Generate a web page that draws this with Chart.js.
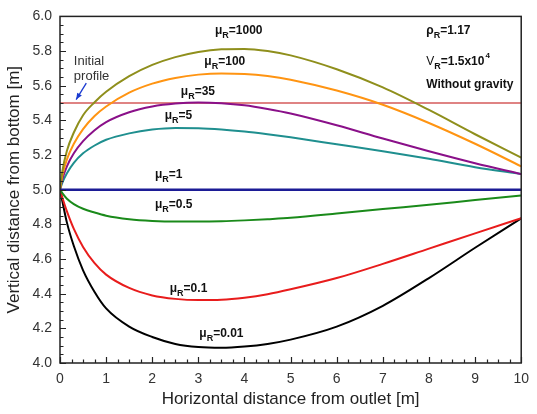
<!DOCTYPE html>
<html><head><meta charset="utf-8">
<script src="https://cdn.jsdelivr.net/npm/chart.js@4.4.1/dist/chart.umd.min.js"></script>
<style>html,body{margin:0;padding:0;background:#fff;} #wrap{width:537px;height:414px;position:relative;}</style>
</head><body><div id="wrap"><canvas id="c" width="537" height="414"></canvas></div>
<script>
// ---- data ----
const xValues = [0, 0.05, 0.15, 0.3, 0.5, 0.75, 1, 1.5, 2, 2.5, 3, 3.5, 4, 4.5, 5, 6, 7, 8, 9, 10];
const muR1000 = [5.0,5.105,5.225,5.33,5.43,5.505,5.565,5.655,5.72,5.765,5.795,5.81,5.812,5.80,5.775,5.695,5.59,5.46,5.32,5.185];
const muR100  = [5.0,5.08,5.175,5.265,5.35,5.425,5.48,5.56,5.612,5.645,5.664,5.671,5.668,5.656,5.635,5.572,5.49,5.385,5.265,5.135];
const muR35   = [5.0,5.06,5.135,5.21,5.28,5.343,5.39,5.447,5.48,5.497,5.503,5.499,5.487,5.466,5.44,5.372,5.295,5.222,5.153,5.09];
const muR5    = [5.0,5.04,5.095,5.155,5.21,5.255,5.288,5.325,5.347,5.356,5.355,5.348,5.336,5.32,5.302,5.262,5.222,5.178,5.13,5.09];
const muR1    = [5.0,5.0,5.0,5.0,5.0,5.0,5.0,5.0,5.0,5.0,5.0,5.0,5.0,5.0,5.0,5.0,5.0,5.0,5.0,5.0];
const muR05   = [5.0,4.98,4.948,4.917,4.89,4.868,4.85,4.83,4.82,4.816,4.816,4.818,4.823,4.83,4.838,4.862,4.888,4.913,4.94,4.966];
const muR01   = [5.0,4.955,4.875,4.774,4.67,4.576,4.51,4.433,4.39,4.37,4.363,4.365,4.377,4.397,4.425,4.49,4.572,4.66,4.748,4.835];
const muR001  = [5.0,4.935,4.81,4.675,4.535,4.41,4.315,4.21,4.15,4.11,4.092,4.088,4.095,4.11,4.135,4.21,4.33,4.49,4.665,4.835];
const initialProfile = [5.5,5.5,5.5,5.5,5.5,5.5,5.5,5.5,5.5,5.5,5.5,5.5,5.5,5.5,5.5,5.5,5.5,5.5,5.5,5.5];
const seriesNames = ['Initial profile','μR=1000','μR=100','μR=35','μR=5','μR=1','μR=0.5','μR=0.1','μR=0.01'];
const xTicks = [0,1,2,3,4,5,6,7,8,9,10];
const yTicks = [4.0,4.2,4.4,4.6,4.8,5.0,5.2,5.4,5.6,5.8,6.0];

// ---- styles ----
const FONT = '"Liberation Sans", Arial, sans-serif';
const seriesData = [initialProfile, muR1000, muR100, muR35, muR5, muR1, muR05, muR01, muR001];
const colors = ['#d45a5a','#8f8f1c','#ff9412','#8a1089','#1f8f8f','#1c1c96','#1a8a1a','#e81c1c','#000000'];
const widths = [1.6,2,2,2,2,2.4,2,2,2];

const datasets = seriesData.map((arr,i)=>({
  label: seriesNames[i],
  data: xValues.map((x,j)=>({x:x,y:arr[j]})),
  borderColor: colors[i],
  borderWidth: widths[i],
  pointRadius: 0,
  fill: false,
  cubicInterpolationMode: 'monotone',
  order: i===0 ? 10 : (i===5 ? 0 : 5)
}));

function muLabel(ctx, px, py, val, size){
  size = size || 12;
  ctx.font = 'bold '+size+'px '+FONT;
  ctx.fillText('μ', px, py);
  let w = ctx.measureText('μ').width;
  ctx.font = 'bold '+Math.round(size*0.75)+'px '+FONT;
  ctx.fillText('R', px+w, py+4);
  let w2 = ctx.measureText('R').width;
  ctx.font = 'bold '+size+'px '+FONT;
  ctx.fillText('='+val, px+w+w2, py);
}

const annot = [
  {x:3.36, y:5.897, v:'1000'},
  {x:3.13, y:5.72, v:'100'},
  {x:2.62, y:5.548, v:'35'},
  {x:2.27, y:5.41, v:'5'},
  {x:2.06, y:5.07, v:'1'},
  {x:2.06, y:4.893, v:'0.5'},
  {x:2.38, y:4.41, v:'0.1'},
  {x:3.02, y:4.15, v:'0.01'}
];

const decor = {
  id:'decor',
  afterDatasetsDraw(chart){
    const ctx = chart.ctx, xs = chart.scales.x, ys = chart.scales.y, a = chart.chartArea;
    ctx.save();
    // frame
    ctx.strokeStyle = '#222'; ctx.lineWidth = 1.5;
    ctx.strokeRect(a.left, a.top, a.right-a.left, a.bottom-a.top);
    // inside ticks
    ctx.lineWidth = 1.2; ctx.beginPath();
    for(let k=0; k<=40; k++){
      const v = k*0.25;
      const p = Math.round(xs.getPixelForValue(v))+0.5;
      const major = k%4===0;
      ctx.moveTo(p, a.bottom); ctx.lineTo(p, a.bottom-(major?6:3.5));
    }
    for(let k=0; k<=40; k++){
      const v = 4 + k*0.05;
      const p = Math.round(ys.getPixelForValue(v))+0.5;
      const major = k%4===0;
      ctx.moveTo(a.left, p); ctx.lineTo(a.left+(major?6:3.5), p);
    }
    ctx.stroke();
    // mu labels
    ctx.fillStyle = '#111'; ctx.textBaseline = 'alphabetic'; ctx.textAlign='left';
    annot.forEach(o=>muLabel(ctx, xs.getPixelForValue(o.x), ys.getPixelForValue(o.y), o.v, 12));
    // right annotations
    const rx = xs.getPixelForValue(7.94);
    ctx.font = 'bold 12px '+FONT;
    let py = ys.getPixelForValue(5.897);
    ctx.fillText('ρ', rx, py); let w = ctx.measureText('ρ').width;
    ctx.font = 'bold 9px '+FONT; ctx.fillText('R', rx+w, py+4); let w2 = ctx.measureText('R').width;
    ctx.font = 'bold 12px '+FONT; ctx.fillText('=1.17', rx+w+w2, py);
    py = ys.getPixelForValue(5.72);
    ctx.font = '12px '+FONT; ctx.fillText('V', rx, py); w = ctx.measureText('V').width;
    ctx.font = 'bold 9px '+FONT; ctx.fillText('R', rx+w, py+4); w2 = ctx.measureText('R').width;
    ctx.font = 'bold 12px '+FONT; ctx.fillText('=1.5x10', rx+w+w2, py); let w3 = ctx.measureText('=1.5x10').width;
    ctx.font = 'bold 8px '+FONT; ctx.fillText('4', rx+w+w2+w3+1, py-7);
    py = ys.getPixelForValue(5.588);
    ctx.font = 'bold 12px '+FONT; ctx.fillText('Without gravity', rx, py);
    // Initial profile
    ctx.fillStyle = '#333'; ctx.font = '13px '+FONT;
    ctx.fillText('Initial', xs.getPixelForValue(0.3), ys.getPixelForValue(5.72));
    ctx.fillText('profile', xs.getPixelForValue(0.3), ys.getPixelForValue(5.633));
    // arrow
    const x1 = xs.getPixelForValue(0.57), y1 = ys.getPixelForValue(5.615);
    const x2 = xs.getPixelForValue(0.35), y2 = ys.getPixelForValue(5.52);
    ctx.strokeStyle = '#1a3ad0'; ctx.fillStyle = '#1a3ad0'; ctx.lineWidth = 1.3;
    ctx.beginPath(); ctx.moveTo(x1,y1); ctx.lineTo(x2,y2); ctx.stroke();
    const ang = Math.atan2(y2-y1, x2-x1), L = 7;
    ctx.beginPath(); ctx.moveTo(x2,y2);
    ctx.lineTo(x2 - L*Math.cos(ang-0.4), y2 - L*Math.sin(ang-0.4));
    ctx.lineTo(x2 - L*Math.cos(ang+0.4), y2 - L*Math.sin(ang+0.4));
    ctx.closePath(); ctx.fill();
    ctx.restore();
  }
};

new Chart(document.getElementById('c'), {
  type: 'line',
  data: { datasets },
  options: {
    responsive: false,
    animation: false,
    layout: { padding: { top: 15, right: 7, left: 0, bottom: 0 } },
    plugins: { legend: { display: false }, tooltip: { enabled: false } },
    scales: {
      x: {
        type: 'linear', min: 0, max: 10,
        afterFit(s){ s.height = 51; },
        afterBuildTicks(s){ s.ticks = xTicks.map(v=>({value:v})); },
        grid: { display: false, drawTicks: false },
        border: { display: false },
        ticks: { color:'#333', font:{ family: FONT, size: 14 }, padding: 8, maxRotation: 0,
                 callback: v => String(v) },
        title: { display: true, text: 'Horizontal distance from outlet [m]', color:'#222',
                 font: { family: FONT, size: 17 }, padding: { top: 0, bottom: 4 } }
      },
      y: {
        type: 'linear', min: 4, max: 6,
        afterFit(s){ s.width = 60; },
        afterBuildTicks(s){ s.ticks = yTicks.map(v=>({value:v})); },
        grid: { display: false, drawTicks: false },
        border: { display: false },
        ticks: { color:'#333', font:{ family: FONT, size: 14 }, padding: 8,
                 callback: v => Number(v).toFixed(1) },
        title: { display: true, text: 'Vertical distance from bottom [m]', color:'#222',
                 font: { family: FONT, size: 17 }, padding: { top: 4, bottom: 0 } }
      }
    }
  },
  plugins: [decor]
});
</script>
</body></html>
